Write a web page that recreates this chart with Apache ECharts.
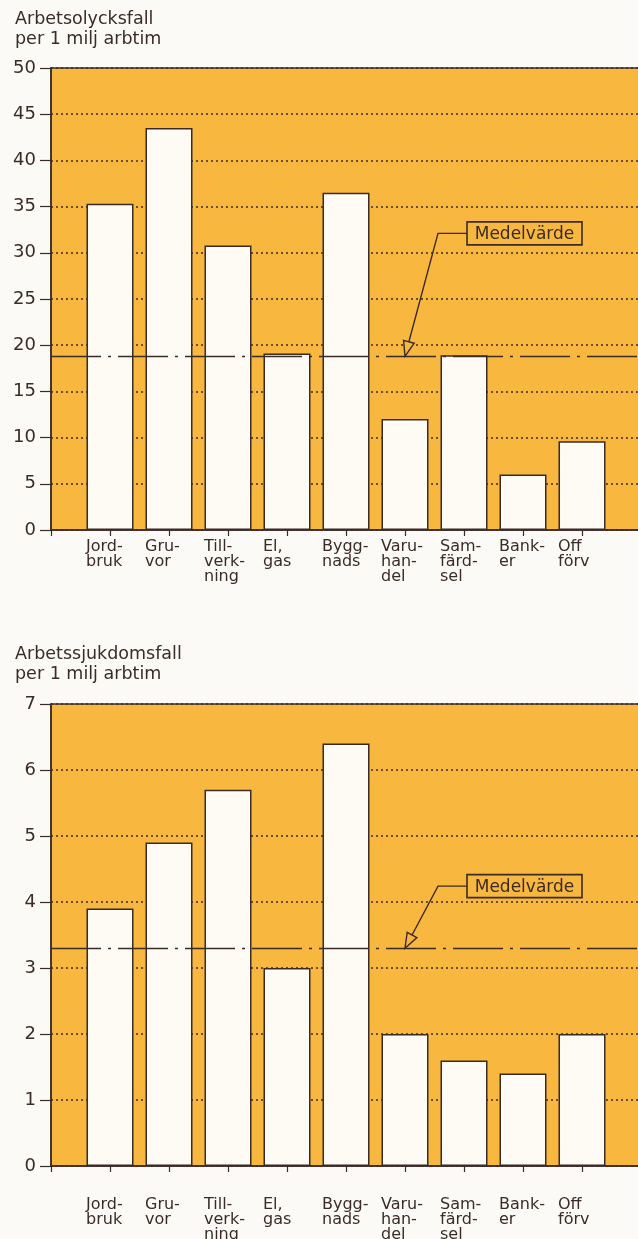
<!DOCTYPE html>
<html>
<head>
<meta charset="utf-8">
<script src="https://cdn.jsdelivr.net/npm/echarts@6/dist/echarts.min.js"></script>
<style>
  html, body { margin: 0; padding: 0; background: #fbfaf6; }
  #chart { width: 638px; height: 1239px; }
</style>
</head>
<body>
<div id="chart"></div>
<script>
// kategorier (tomma platser i början och slutet för att få luft vid axeln)
const categories = ['', 'Jord-\nbruk', 'Gru-\nvor', 'Till-\nverk-\nning', 'El,\ngas', 'Bygg-\nnads',
  'Varu-\nhan-\ndel', 'Sam-\nfärd-\nsel', 'Bank-\ner', 'Off\nförv', '']
const accidents = [null, 35.3, 43.5, 30.8, 19.1, 36.5, 12.0, 18.9, 6.0, 9.6, null]
const diseases = [null, 3.9, 4.9, 5.7, 3.0, 6.4, 2.0, 1.6, 1.4, 2.0, null]
const accidentMean = 18.8
const diseaseMean = 3.3
const accidentTicks = [0, 50, 5]
const diseaseTicks = [0, 7, 1]

const ink = '#3b2b26'
const orange = '#f8b73e'
const barFill = '#fefbf4'
const font = 'DejaVu Sans'

const chart = echarts.init(document.getElementById('chart'))

function xAxis(gi, margin) {
  return {
    type: 'category',
    gridIndex: gi,
    data: categories,
    boundaryGap: false,
    axisLine: { lineStyle: { color: ink, width: 1.5 } },
    axisTick: { show: true, length: 6, interval: 0, lineStyle: { color: ink, width: 1.2 } },
    axisLabel: {
      interval: 0,
      margin: margin,
      formatter: v => v ? v.split('\n').map(s => '{a|' + s + '}').join('\n') : '',
      rich: { a: { width: 48, align: 'left', fontSize: 16, lineHeight: 15, color: ink, fontFamily: font } }
    },
    splitLine: { show: false }
  }
}

function yAxis(gi, t) {
  return {
    type: 'value',
    gridIndex: gi,
    min: t[0],
    max: t[1],
    interval: t[2],
    axisLine: { show: true, lineStyle: { color: ink, width: 1.5 } },
    axisTick: { show: true, length: 11, lineStyle: { color: ink, width: 1.2 } },
    axisLabel: { margin: 15, fontSize: 18, color: ink, fontFamily: font },
    splitLine: { show: true, lineStyle: { color: ink, width: 1.5, type: [2, 3] } }
  }
}

function bars(gi, data, mean) {
  return {
    type: 'bar',
    xAxisIndex: gi,
    yAxisIndex: gi,
    data: data,
    barWidth: 47,
    itemStyle: { color: barFill, borderColor: ink, borderWidth: 1.5 },
    markLine: {
      silent: true,
      symbol: ['none', 'none'],
      label: { show: false },
      lineStyle: { color: ink, width: 1.3, type: [50, 7, 3, 7] },
      data: [{ yAxis: mean }]
    }
  }
}

chart.setOption({
  animation: false,
  backgroundColor: '#fbfaf6',
  textStyle: { fontFamily: font },
  title: [
    {
      text: 'Arbetsolycksfall\nper 1 milj arbtim',
      left: 10, top: 4,
      textStyle: { fontSize: 17.5, lineHeight: 20, fontWeight: 'normal', color: ink, fontFamily: font }
    },
    {
      text: 'Arbetssjukdomsfall\nper 1 milj arbtim',
      left: 10, top: 639,
      textStyle: { fontSize: 17.5, lineHeight: 20, fontWeight: 'normal', color: ink, fontFamily: font }
    }
  ],
  grid: [
    { left: 51, top: 68, height: 462, width: 590, outerBoundsMode: 'none', show: true, backgroundColor: orange, borderColor: ink, borderWidth: 1.5 },
    { left: 51, top: 704, height: 462, width: 590, outerBoundsMode: 'none', show: true, backgroundColor: orange, borderColor: ink, borderWidth: 1.5 }
  ],
  xAxis: [xAxis(0, 9), xAxis(1, 31)],
  yAxis: [yAxis(0, accidentTicks), yAxis(1, diseaseTicks)],
  series: [bars(0, accidents, accidentMean), bars(1, diseases, diseaseMean)]
})

// "Medelvärde"-ruta med pil ner mot medellinjen
function annotation(gi, mean, boxVal) {
  const tip = chart.convertToPixel({ gridIndex: gi }, [categories[6], mean])
  const anchor = chart.convertToPixel({ gridIndex: gi }, [categories[7], boxVal])
  const boxLeft = anchor[0] + 3
  const elbow = [boxLeft - 29, anchor[1]]
  const dx = tip[0] - elbow[0], dy = tip[1] - elbow[1]
  const len = Math.sqrt(dx * dx + dy * dy)
  const ux = dx / len, uy = dy / len
  const base = [tip[0] - ux * 15, tip[1] - uy * 15]
  const nx = -uy * 5.5, ny = ux * 5.5
  return [
    {
      type: 'polyline', z: 100,
      shape: { points: [[boxLeft, anchor[1]], elbow, base] },
      style: { stroke: ink, lineWidth: 1.4, fill: null }
    },
    {
      type: 'polygon', z: 101,
      shape: { points: [tip, [base[0] + nx, base[1] + ny], [base[0] - nx, base[1] - ny]] },
      style: { stroke: ink, lineWidth: 1.4, fill: orange }
    },
    {
      type: 'rect', z: 100,
      shape: { x: boxLeft, y: anchor[1] - 11.5, width: 115, height: 23 },
      style: { stroke: ink, lineWidth: 1.6, fill: orange }
    },
    {
      type: 'text', z: 102,
      x: boxLeft + 57.5, y: anchor[1] + 1,
      style: { text: 'Medelvärde', fontSize: 17, fontFamily: font, fill: ink, align: 'center', verticalAlign: 'middle' }
    }
  ]
}

chart.setOption({
  graphic: annotation(0, accidentMean, 32.1).concat(annotation(1, diseaseMean, 4.24))
})
</script>
</body>
</html>
